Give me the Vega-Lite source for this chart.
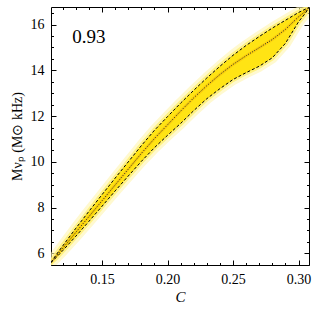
{
  "$schema": "https://vega.github.io/schema/vega-lite/v6.json",
  "width": 258,
  "height": 258,
  "autosize": {"type": "none"},
  "padding": {"left": 51, "top": 7, "right": 6, "bottom": 50},
  "background": "white",
  "config": {
    "view": {"stroke": "black", "strokeWidth": 1},
    "axis": {"grid": false, "domain": false, "tickColor": "black", "tickWidth": 1, "labelFont": "Liberation Serif", "labelFontSize": 14, "labelColor": "black", "titleFont": "Liberation Serif", "titleFontSize": 14, "titleColor": "black", "titleFontWeight": "normal"}
  },
  "data": {"values": [
    {"C": 0.111, "lo": 5.60, "mid": 5.60, "hi": 5.60},
    {"C": 0.115, "lo": 5.82, "mid": 5.88, "hi": 5.94},
    {"C": 0.12, "lo": 6.12, "mid": 6.22, "hi": 6.33},
    {"C": 0.13, "lo": 6.75, "mid": 6.92, "hi": 7.10},
    {"C": 0.14, "lo": 7.40, "mid": 7.61, "hi": 7.84},
    {"C": 0.15, "lo": 8.06, "mid": 8.30, "hi": 8.57},
    {"C": 0.16, "lo": 8.73, "mid": 8.99, "hi": 9.29},
    {"C": 0.17, "lo": 9.38, "mid": 9.68, "hi": 10.00},
    {"C": 0.18, "lo": 10.02, "mid": 10.37, "hi": 10.71},
    {"C": 0.19, "lo": 10.62, "mid": 11.02, "hi": 11.38},
    {"C": 0.20, "lo": 11.16, "mid": 11.62, "hi": 11.98},
    {"C": 0.21, "lo": 11.68, "mid": 12.22, "hi": 12.57},
    {"C": 0.22, "lo": 12.24, "mid": 12.80, "hi": 13.13},
    {"C": 0.23, "lo": 12.76, "mid": 13.33, "hi": 13.67},
    {"C": 0.24, "lo": 13.20, "mid": 13.82, "hi": 14.18},
    {"C": 0.25, "lo": 13.60, "mid": 14.26, "hi": 14.66},
    {"C": 0.26, "lo": 13.90, "mid": 14.64, "hi": 15.09},
    {"C": 0.27, "lo": 14.18, "mid": 14.99, "hi": 15.48},
    {"C": 0.28, "lo": 14.55, "mid": 15.35, "hi": 15.85},
    {"C": 0.29, "lo": 15.18, "mid": 15.79, "hi": 16.19},
    {"C": 0.30, "lo": 16.12, "mid": 16.34, "hi": 16.53},
    {"C": 0.305, "lo": 16.48, "mid": 16.57, "hi": 16.67},
    {"C": 0.308, "lo": 16.75, "mid": 16.75, "hi": 16.75}
  ]},
  "resolve": {"axis": {"x": "independent", "y": "independent"}},
  "layer": [
    {
      "mark": {"type": "area", "clip": true, "fill": "#fff6b0", "stroke": "#fff6b0", "strokeWidth": 11, "strokeJoin": "round", "opacity": 0.6},
      "encoding": {
        "x": {"field": "C", "type": "quantitative", "scale": {"domain": [0.111, 0.308], "nice": false, "zero": false},
              "axis": {"orient": "bottom", "values": [0.15, 0.2, 0.25, 0.3], "format": ".2f", "ticks": false, "labelPadding": 7, "title": "C", "titleFontStyle": "italic", "titleFontSize": 15, "titlePadding": 3}},
        "y": {"field": "lo", "type": "quantitative", "scale": {"domain": [5.49, 16.77], "nice": false, "zero": false},
              "axis": {"orient": "left", "values": [6, 8, 10, 12, 14, 16], "ticks": false, "labelPadding": 7, "title": "Mνₚ (M⊙ kHz)", "titlePadding": 6}},
        "y2": {"field": "hi"}
      }
    },
    {
      "mark": {"type": "area", "clip": true, "fill": "#fff176", "stroke": "#fff176", "strokeWidth": 5, "strokeJoin": "round", "opacity": 0.85},
      "encoding": {
        "x": {"field": "C", "type": "quantitative", "scale": {"domain": [0.111, 0.308], "nice": false, "zero": false},
              "axis": {"orient": "bottom", "values": [0.15, 0.2, 0.25, 0.3], "labels": false, "tickSize": -5, "title": null}},
        "y": {"field": "lo", "type": "quantitative", "scale": {"domain": [5.49, 16.77], "nice": false, "zero": false},
              "axis": {"orient": "left", "values": [6, 8, 10, 12, 14, 16], "labels": false, "tickSize": -5, "title": null}},
        "y2": {"field": "hi"}
      }
    },
    {
      "mark": {"type": "area", "clip": true, "fill": "#ffe414"},
      "encoding": {
        "x": {"field": "C", "type": "quantitative", "scale": {"domain": [0.111, 0.308], "nice": false, "zero": false},
              "axis": {"orient": "bottom", "values": [0.12, 0.13, 0.14, 0.16, 0.17, 0.18, 0.19, 0.21, 0.22, 0.23, 0.24, 0.26, 0.27, 0.28, 0.29], "labels": false, "tickSize": -2.5, "title": null}},
        "y": {"field": "lo", "type": "quantitative", "scale": {"domain": [5.49, 16.77], "nice": false, "zero": false},
              "axis": {"orient": "left", "values": [5.5, 6.5, 7, 7.5, 8.5, 9, 9.5, 10.5, 11, 11.5, 12.5, 13, 13.5, 14.5, 15, 15.5, 16.5], "labels": false, "tickSize": -2.5, "title": null}},
        "y2": {"field": "hi"}
      }
    },
    {
      "mark": {"type": "line", "clip": true, "stroke": "#f0a000", "strokeWidth": 3, "opacity": 0.3},
      "encoding": {
        "x": {"field": "C", "type": "quantitative", "scale": {"domain": [0.111, 0.308], "nice": false, "zero": false},
              "axis": {"orient": "top", "values": [0.15, 0.2, 0.25, 0.3], "labels": false, "tickSize": -5, "title": null}},
        "y": {"field": "mid", "type": "quantitative", "scale": {"domain": [5.49, 16.77], "nice": false, "zero": false},
              "axis": {"orient": "right", "values": [6, 8, 10, 12, 14, 16], "labels": false, "tickSize": -5, "title": null}}
      }
    },
    {
      "mark": {"type": "line", "clip": true, "stroke": "black", "strokeWidth": 1, "strokeDash": [3, 2]},
      "encoding": {
        "x": {"field": "C", "type": "quantitative", "scale": {"domain": [0.111, 0.308], "nice": false, "zero": false},
              "axis": {"orient": "top", "values": [0.12, 0.13, 0.14, 0.16, 0.17, 0.18, 0.19, 0.21, 0.22, 0.23, 0.24, 0.26, 0.27, 0.28, 0.29], "labels": false, "tickSize": -2.5, "title": null}},
        "y": {"field": "hi", "type": "quantitative", "scale": {"domain": [5.49, 16.77], "nice": false, "zero": false},
              "axis": {"orient": "right", "values": [5.5, 6.5, 7, 7.5, 8.5, 9, 9.5, 10.5, 11, 11.5, 12.5, 13, 13.5, 14.5, 15, 15.5, 16.5], "labels": false, "tickSize": -2.5, "title": null}}
      }
    },
    {
      "mark": {"type": "line", "clip": true, "stroke": "black", "strokeWidth": 1, "strokeDash": [3, 2]},
      "encoding": {
        "x": {"field": "C", "type": "quantitative", "axis": null},
        "y": {"field": "lo", "type": "quantitative", "axis": null}
      }
    },
    {
      "mark": {"type": "line", "clip": true, "stroke": "#222222", "strokeWidth": 1, "strokeDash": [1, 1.5]},
      "encoding": {
        "x": {"field": "C", "type": "quantitative", "axis": null},
        "y": {"field": "mid", "type": "quantitative", "axis": null}
      }
    },
    {
      "data": {"values": [{"C": 0.1272, "v": 15.21, "label": "0.93"}]},
      "mark": {"type": "text", "font": "Liberation Serif", "fontSize": 19, "align": "left", "baseline": "alphabetic", "color": "black"},
      "encoding": {
        "x": {"field": "C", "type": "quantitative", "axis": null},
        "y": {"field": "v", "type": "quantitative", "axis": null},
        "text": {"field": "label"}
      }
    }
  ]
}
